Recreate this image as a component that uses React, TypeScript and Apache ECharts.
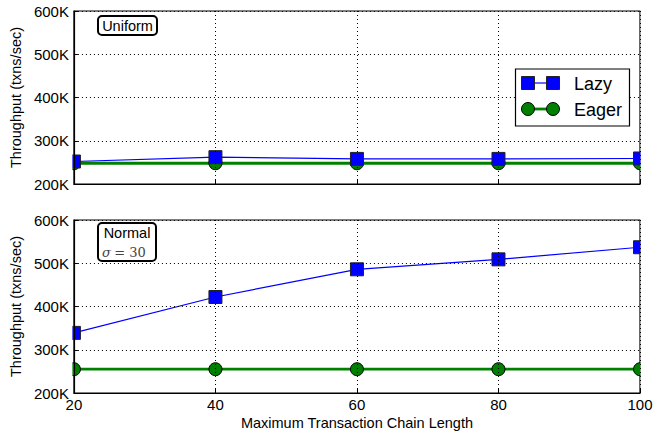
import React, { useEffect, useRef } from "react";
import * as echarts from "echarts";

const chainLengths = [20, 40, 60, 80, 100];
const uniformLazy = [252000, 262000, 258000, 258000, 259000];
const uniformEager = [248000, 248000, 248000, 248000, 248000];
const normalLazy = [339000, 422000, 486000, 509000, 537000];
const normalEager = [255000, 255000, 255000, 255000, 255000];
const yTicks = [200000, 300000, 400000, 500000, 600000];

const FONT = "Liberation Sans";

export default function App() {
  const ref = useRef<HTMLDivElement>(null);
  useEffect(() => {
    if (!ref.current) return;
    const chart = echarts.init(ref.current, null, { renderer: "svg" });
    const pair = (xs: number[], ys: number[]) => xs.map((x, i) => [x, ys[i]]);
    const gridCommon = { left: 73, right: 23, height: 173, show: true, borderColor: "#000", borderWidth: 1.2, backgroundColor: "#fff" };
    const xAxisBase = (gi: number, showLabels: boolean) => ({
      type: "value",
      gridIndex: gi,
      z: 10,
      min: chainLengths[0],
      max: chainLengths[chainLengths.length - 1],
      interval: 20,
      axisLine: { show: true, lineStyle: { color: "#000", width: 1.2 } },
      axisTick: { show: true, inside: true, length: 4, lineStyle: { color: "#000" } },
      axisLabel: { show: showLabels, fontFamily: FONT, fontSize: 15, color: "#000", margin: 4 },
      splitLine: { show: true, lineStyle: { color: "#000", type: [1, 3], width: 1 } },
      name: showLabels ? "Maximum Transaction Chain Length" : "",
      nameLocation: "middle",
      nameGap: 22,
      nameTextStyle: { fontFamily: FONT, fontSize: 14.5, color: "#000" },
    });
    const yAxisBase = (gi: number) => ({
      type: "value",
      gridIndex: gi,
      z: 10,
      min: yTicks[0],
      max: yTicks[yTicks.length - 1],
      interval: 100000,
      axisLine: { show: true, lineStyle: { color: "#000", width: 1.2 } },
      axisTick: { show: true, inside: true, length: 4, lineStyle: { color: "#000" } },
      axisLabel: {
        fontFamily: FONT,
        fontSize: 15,
        color: "#000",
        margin: 5,
        formatter: (v: number) => `${v / 1000}K`,
      },
      splitLine: { show: true, lineStyle: { color: "#000", type: [1, 3], width: 1 } },
      name: "Throughput (txns/sec)",
      nameLocation: "middle",
      nameGap: 49,
      nameTextStyle: { fontFamily: FONT, fontSize: 14.5, color: "#000" },
    });
    const lazySeries = (gi: number, data: number[]) => ({
      type: "line",
      name: "Lazy",
      xAxisIndex: gi,
      yAxisIndex: gi,
      data: pair(chainLengths, data),
      symbol: "rect",
      symbolSize: 13,
      clip: true,
      lineStyle: { color: "#0000ff", width: 1.2 },
      itemStyle: { color: "#0000ff", borderColor: "#222", borderWidth: 1 },
      z: 3,
    });
    const eagerSeries = (gi: number, data: number[]) => ({
      type: "line",
      name: "Eager",
      xAxisIndex: gi,
      yAxisIndex: gi,
      data: pair(chainLengths, data),
      symbol: "circle",
      symbolSize: 13,
      clip: true,
      lineStyle: { color: "#008000", width: 2.8 },
      itemStyle: { color: "#008000", borderColor: "#000", borderWidth: 1 },
      z: 2,
    });

    const textStyle = { fontFamily: FONT, fontSize: 15, fill: "#000" };

    chart.setOption({
      animation: false,
      backgroundColor: "#fff",
      grid: [
        { ...gridCommon, top: 11 },
        { ...gridCommon, top: 220 },
      ],
      xAxis: [xAxisBase(0, false), xAxisBase(1, true)],
      yAxis: [yAxisBase(0), yAxisBase(1)],
      series: [
        eagerSeries(0, uniformEager),
        lazySeries(0, uniformLazy),
        eagerSeries(1, normalEager),
        lazySeries(1, normalLazy),
      ],
      graphic: [
        // white strips emulating clipping of markers at the plot edges
        {
          type: "rect",
          shape: { x: 65.5, y: 0, width: 6.9, height: 396 },
          style: { fill: "#fff" },
          z: 5,
        },
        {
          type: "rect",
          shape: { x: 640.6, y: 0, width: 23, height: 396 },
          style: { fill: "#fff" },
          z: 5,
        },
        // Uniform label box
        {
          type: "rect",
          shape: { x: 98, y: 16, width: 59, height: 19, r: 4 },
          style: { fill: "#fff", stroke: "#000", lineWidth: 2 },
          z: 20,
        },
        {
          type: "text",
          x: 127.5,
          y: 25.5,
          style: { ...textStyle, text: "Uniform", align: "center", verticalAlign: "middle", fontSize: 14.5 },
          z: 21,
        },
        // Normal label box
        {
          type: "rect",
          shape: { x: 98, y: 223, width: 58, height: 38, r: 4 },
          style: { fill: "#fff", stroke: "#000", lineWidth: 2 },
          z: 20,
        },
        {
          type: "text",
          x: 127,
          y: 233,
          style: { ...textStyle, text: "Normal", align: "center", verticalAlign: "middle", fontSize: 14.5 },
          z: 21,
        },
        {
          type: "text",
          x: 102,
          y: 252,
          style: {
            text: "{s|σ} {e|= 30}",
            align: "left",
            verticalAlign: "middle",
            rich: {
              s: { fontFamily: "DejaVu Serif", fontStyle: "italic", fontSize: 13, fill: "#444" },
              e: { fontFamily: "DejaVu Serif", fontSize: 13, fill: "#444" },
            },
          },
          z: 21,
        },
        // Legend
        {
          type: "rect",
          shape: { x: 515.5, y: 69, width: 114, height: 57 },
          style: { fill: "#fff", stroke: "#000", lineWidth: 1.2 },
          z: 20,
        },
        {
          type: "line",
          shape: { x1: 528, y1: 83, x2: 553, y2: 83 },
          style: { stroke: "#0000ff", lineWidth: 1.2 },
          z: 21,
        },
        {
          type: "rect",
          shape: { x: 521.5, y: 76.5, width: 13, height: 13 },
          style: { fill: "#0000ff", stroke: "#222", lineWidth: 1 },
          z: 22,
        },
        {
          type: "rect",
          shape: { x: 546.5, y: 76.5, width: 13, height: 13 },
          style: { fill: "#0000ff", stroke: "#222", lineWidth: 1 },
          z: 22,
        },
        {
          type: "text",
          x: 574,
          y: 84,
          style: { ...textStyle, text: "Lazy", verticalAlign: "middle", fontSize: 18 },
          z: 21,
        },
        {
          type: "line",
          shape: { x1: 528, y1: 109, x2: 553, y2: 109 },
          style: { stroke: "#008000", lineWidth: 2.8 },
          z: 21,
        },
        {
          type: "circle",
          shape: { cx: 528, cy: 109, r: 6.5 },
          style: { fill: "#008000", stroke: "#000", lineWidth: 1 },
          z: 22,
        },
        {
          type: "circle",
          shape: { cx: 553, cy: 109, r: 6.5 },
          style: { fill: "#008000", stroke: "#000", lineWidth: 1 },
          z: 22,
        },
        {
          type: "text",
          x: 574,
          y: 110,
          style: { ...textStyle, text: "Eager", verticalAlign: "middle", fontSize: 18 },
          z: 21,
        },
      ],
    });
    return () => chart.dispose();
  }, []);
  return <div ref={ref} style={{ width: 663, height: 433, position: "absolute", left: 0, top: 0 }} />;
}
